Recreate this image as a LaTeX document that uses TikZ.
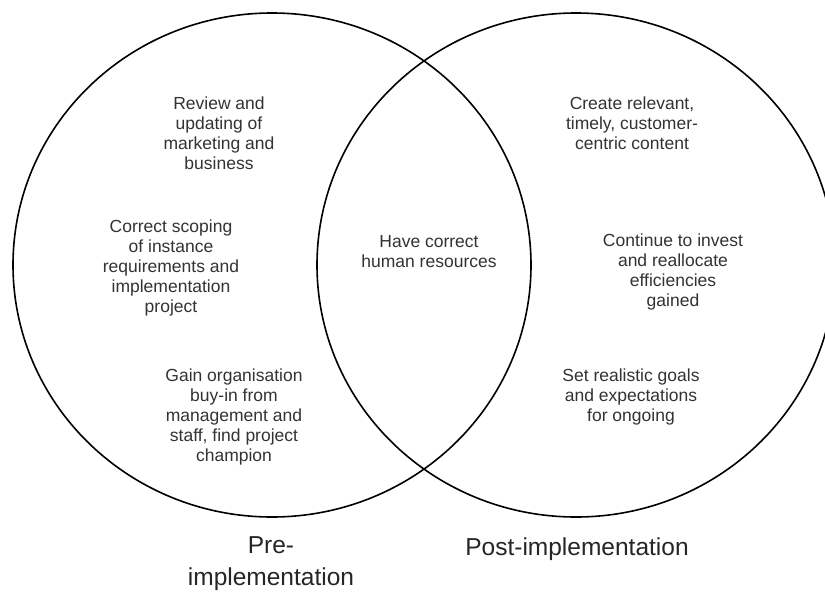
\documentclass[tikz,border=0pt]{standalone}
\usepackage{fontspec}
\setmainfont{Liberation Sans}
\usepackage{tikz}
\usetikzlibrary{shapes.geometric}

\begin{document}
\begin{tikzpicture}[
    x=1pt, y=-1pt,
    setring/.style={ellipse, draw=black, line width=1.6pt, minimum width=518pt, minimum height=504pt, inner sep=0pt},
    entry/.style={align=center, text=black!80, inner sep=0pt, font=\fontsize{17.5}{20}\selectfont},
    setlabel/.style={align=center, text=black!85, inner sep=0pt, font=\fontsize{24.5}{32}\selectfont}
]

% Page
\fill[white] (0,0) rectangle (825,595);
\useasboundingbox (0,0) rectangle (825,595);
\clip (0,0) rectangle (825,595);

% Sets
\node[setring] (pre) at (272, 265) {};
\node[setring] (post) at (576, 265) {};

% Pre-implementation only
\node[entry] (review) at (219, 133) {Review and\\updating of\\marketing and\\business};
\node[entry] (scoping) at (171, 268) {Correct scoping\\of instance\\requirements and\\implementation\\project};
\node[entry] (buyin) at (234, 417) {Gain organisation\\buy-in from\\management and\\staff, find project\\champion};

% Both
\node[entry] (staff) at (429, 252) {Have correct\\human resources};

% Post-implementation only
\node[entry] (content) at (632, 123) {Create relevant,\\timely, customer-\\centric content};
\node[entry] (invest) at (673, 272) {Continue to invest\\and reallocate\\efficiencies\\gained};
\node[entry] (goals) at (631, 397) {Set realistic goals\\and expectations\\for ongoing};

% Labels
\node[setlabel] (prelabel) at (271, 564) {Pre-\\implementation};
\node[setlabel] (postlabel) at (577, 549) {Post-implementation};

\end{tikzpicture}
\end{document}
